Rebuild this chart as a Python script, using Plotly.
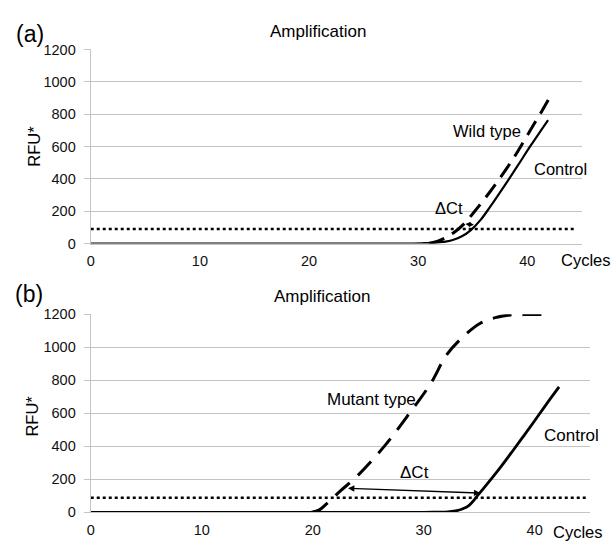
import plotly.graph_objects as go

W, H = 614, 548

# ---------------- data ----------------
# Panel (a)
a_ctrl_x = [0, 5, 10, 15, 20, 25, 29, 30.3, 31.5, 32.5, 33.3, 34.0, 34.8, 35.7, 36.6, 37.9, 39.1, 40.3, 41.9]
a_ctrl_y = [0, 0, 0, 0, 0, 0, 0, 2, 5, 12, 25, 45, 82, 145, 228, 357, 480, 605, 764]
a_wild_x = [31.0, 31.8, 32.6, 33.4, 34.2, 35.3, 36.6, 37.7, 38.8, 39.7, 40.6, 41.3, 42.1]
a_wild_y = [2, 15, 40, 75, 122, 210, 322, 425, 535, 635, 738, 815, 910]
a_threshold = 90
a_thr_x = [0, 44.3]
a_dct = [34.2, 122, 35.1, 116]   # arrow: x0, y0, x1, y1

# Panel (b)
b_ctrl_x = [0, 5, 10, 15, 20, 25, 30, 31.2, 32.2, 33.0, 34.0, 35.0, 36.0, 37.0, 38.0, 39.0, 40.0, 41.0, 42.2]
b_ctrl_y = [0, 0, 0, 0, 0, 0, 0, 1, 3, 10, 38, 113, 195, 280, 370, 462, 555, 650, 760]
b_mut_x = [19.9, 20.6, 21.3, 22.5, 24.0, 26.5, 28.7, 30.7, 32.0, 33.4, 35.1, 36.6, 37.8, 39.0, 41.3]
b_mut_y = [0, 15, 54, 130, 219, 404, 598, 788, 948, 1054, 1146, 1182, 1196, 1198, 1198]
b_threshold = 88
b_thr_x = [0, 44.6]
b_dct = [23.05, 146, 35.1, 117]

y_ticks = [0, 200, 400, 600, 800, 1000, 1200]
x_ticks = [0, 10, 20, 30, 40]

FONT = "Liberation Sans, Arial, sans-serif"
GRID = "#c4c4c4"

fig = go.Figure()

def px(x):
    return x / W

def py(y):
    return 1 - y / H

# panel (a) traces
fig.add_trace(go.Scatter(x=a_thr_x, y=[a_threshold, a_threshold], mode="lines",
                         line=dict(color="black", width=2.5, dash="dot"),
                         xaxis="x", yaxis="y", showlegend=False, hoverinfo="skip"))
fig.add_trace(go.Scatter(x=a_ctrl_x, y=a_ctrl_y, mode="lines", line_shape="spline",
                         line=dict(color="black", width=2.2),
                         xaxis="x", yaxis="y", showlegend=False))
fig.add_trace(go.Scatter(x=a_wild_x, y=a_wild_y, mode="lines", line_shape="spline",
                         line=dict(color="black", width=3, dash="16px,9px"),
                         xaxis="x", yaxis="y", showlegend=False))

# panel (b) traces
fig.add_trace(go.Scatter(x=b_thr_x, y=[b_threshold, b_threshold], mode="lines",
                         line=dict(color="black", width=2.5, dash="dot"),
                         xaxis="x2", yaxis="y2", showlegend=False, hoverinfo="skip"))
fig.add_trace(go.Scatter(x=b_ctrl_x, y=b_ctrl_y, mode="lines", line_shape="spline",
                         line=dict(color="black", width=2.8),
                         xaxis="x2", yaxis="y2", showlegend=False))
fig.add_trace(go.Scatter(x=b_mut_x, y=b_mut_y, mode="lines", line_shape="spline",
                         line=dict(color="black", width=3, dash="19px,11px"),
                         xaxis="x2", yaxis="y2", showlegend=False))

axis_common_x = dict(range=[0, 45], tickvals=x_ticks, showgrid=False, zeroline=False,
                     showline=True, linecolor=GRID, linewidth=1.2, ticks="",
                     tickfont=dict(family=FONT, size=14.5, color="#111"),
                     ticklabelstandoff=4, fixedrange=True)
axis_common_y = dict(range=[0, 1200], tickvals=y_ticks, showgrid=True, gridcolor=GRID,
                     gridwidth=1.2, zeroline=False, showline=True, linecolor=GRID,
                     linewidth=1.2, ticks="outside", ticklen=6, tickcolor=GRID,
                     tickfont=dict(family=FONT, size=14.5, color="#111"),
                     ticklabelstandoff=5, fixedrange=True)

fig.update_layout(
    width=W, height=H,
    margin=dict(l=0, r=0, t=0, b=0),
    paper_bgcolor="white", plot_bgcolor="white",
    xaxis=dict(domain=[px(87.3), px(581.7)], anchor="y", **axis_common_x),
    yaxis=dict(domain=[py(242.7), py(42.7)], anchor="x", **axis_common_y),
    xaxis2=dict(domain=[px(87.3), px(590)], anchor="y2", **axis_common_x),
    yaxis2=dict(domain=[py(519.5), py(315.5)], anchor="x2", **axis_common_y),
)

ann = []

def ptext(x, y, text, size, angle=0):
    ann.append(dict(x=px(x), y=py(y), xref="paper", yref="paper", text=text,
                    showarrow=False, xanchor="center", yanchor="middle",
                    textangle=angle, font=dict(family=FONT, size=size, color="black")))

# panel labels, titles, axis labels
ptext(26.5, 27, "(a)", 23)
ptext(25.5, 295, "(b)", 23)
ptext(316, 24, "Amplification", 17)
ptext(320, 297, "Amplification", 17)
ptext(30, 142, "RFU*", 16.5, -90)
ptext(28, 420, "RFU*", 16.5, -90)
ptext(586, 260, "Cycles", 16.5)
ptext(578, 540, "Cycles", 16.5)

def dtext(xr, yr, x, y, text, size):
    ann.append(dict(x=x, y=y, xref=xr, yref=yr, text=text, showarrow=False,
                    xanchor="center", yanchor="middle",
                    font=dict(family=FONT, size=size, color="black")))

dtext("x", "y", 36.3, 694, "Wild type", 16.5)
dtext("x", "y", 43.0, 464, "Control", 16.5)
dtext("x", "y", 32.8, 220, "ΔCt", 16.5)
dtext("x2", "y2", 25.3, 685, "Mutant type", 17)
dtext("x2", "y2", 43.3, 465, "Control", 17)
dtext("x2", "y2", 29.2, 239, "ΔCt", 17)

def darrow(xr, yr, seg, size):
    x0, y0, x1, y1 = seg
    ann.append(dict(x=x1, y=y1, ax=x0, ay=y0, xref=xr, yref=yr, axref=xr, ayref=yr,
                    showarrow=True, arrowhead=2, startarrowhead=2, arrowside="end+start",
                    arrowsize=size, startarrowsize=size, arrowwidth=1.4, arrowcolor="black",
                    text=""))

darrow("x", "y", a_dct, 0.7)
darrow("x2", "y2", b_dct, 0.9)

fig.update_layout(annotations=ann)

fig.write_html("out.html", config={"displayModeBar": False},
               post_script="document.body.style.margin='0';")
